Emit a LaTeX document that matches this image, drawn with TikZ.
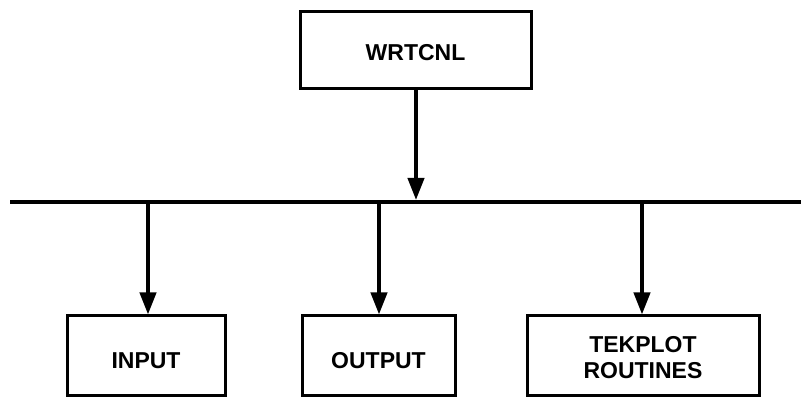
\documentclass[tikz,border=0pt]{standalone}
\usepackage{fontspec}
\setmainfont{Liberation Sans}
\usetikzlibrary{arrows.meta}
\begin{document}
\begin{tikzpicture}[x=1pt,y=1pt,
  blockbox/.style={draw=black,line width=3pt,minimum height=78pt,inner sep=0pt,
    align=center,font=\fontsize{23}{26}\selectfont\bfseries},
  lowtext/.style={text height=25pt},
  conn/.style={line width=4pt,-{Triangle[width=16pt,length=22pt]}}]
\useasboundingbox (0,0) rectangle (801,398);
\node[blockbox,text height=20pt,minimum width=231pt,minimum height=77pt] (w) at (415.5,347.5) {WRTCNL};
\node[blockbox,lowtext,minimum width=158pt,minimum height=80pt] (in) at (146,42) {INPUT};
\node[blockbox,lowtext,minimum width=153pt,minimum height=80pt] (out) at (378.5,42) {OUTPUT};
\node[blockbox,minimum width=232pt,minimum height=80pt] (tek) at (643,42)
  {\raisebox{-4pt}[\height][\depth]{\begin{tabular}{@{}c@{}}TEKPLOT\\ROUTINES\end{tabular}}};
\coordinate (busL) at (10,196);
\coordinate (busR) at (801,196);
\coordinate (bw) at (416,198);
\coordinate (b1) at (148,196);
\coordinate (b2) at (379,196);
\coordinate (b3) at (642,196);
\draw[line width=4pt] (busL) -- (busR);
\draw[conn] (w.south -| bw) -- (bw);
\draw[conn] (b1) -- (b1 |- in.north);
\draw[conn] (b2) -- (b2 |- out.north);
\draw[conn] (b3) -- (b3 |- tek.north);
\end{tikzpicture}
\end{document}
